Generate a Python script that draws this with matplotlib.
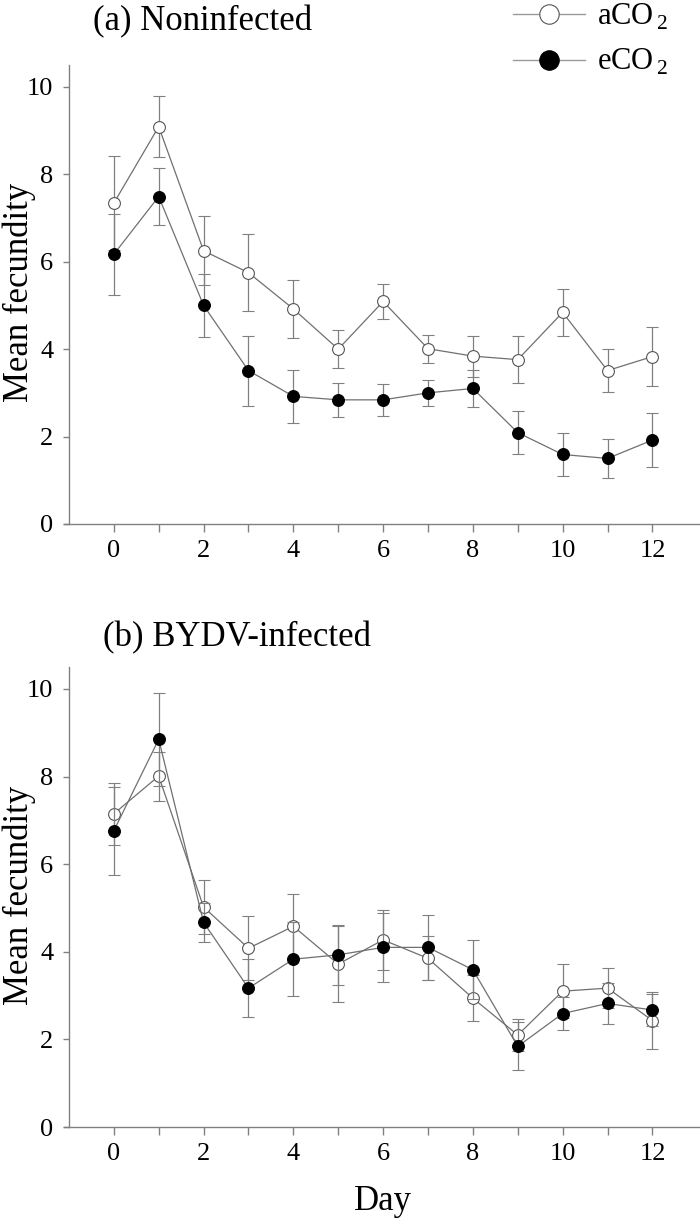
import matplotlib
matplotlib.use("Agg")
import matplotlib.pyplot as plt
from matplotlib.lines import Line2D

plt.rcParams['font.family'] = ['Liberation Serif', 'DejaVu Serif']
plt.rcParams['mathtext.fontset'] = 'custom'
plt.rcParams['mathtext.rm'] = 'Liberation Serif'

days = list(range(13))
ytick_labels = ['0', '2', '4', '6', '8', '10']

# (a) Noninfected
a_noninf_mean = [7.34, 9.09, 6.25, 5.75, 4.92, 4.00, 5.09, 4.01, 3.84, 3.76, 4.84, 3.51, 3.83]
a_noninf_se = [1.08, 0.70, 0.79, 0.88, 0.66, 0.43, 0.40, 0.32, 0.47, 0.54, 0.53, 0.49, 0.68]
e_noninf_mean = [6.17, 7.49, 5.00, 3.51, 2.92, 2.84, 2.84, 3.00, 3.10, 2.09, 1.59, 1.50, 1.92]
e_noninf_se = [0.92, 0.65, 0.73, 0.80, 0.61, 0.39, 0.37, 0.30, 0.43, 0.50, 0.50, 0.45, 0.62]

# (b) BYDV-infected
a_inf_mean = [7.15, 8.01, 5.02, 4.08, 4.58, 3.72, 4.27, 3.85, 2.94, 2.10, 3.10, 3.17, 2.43]
a_inf_se = [0.71, 0.56, 0.61, 0.73, 0.74, 0.87, 0.69, 0.50, 0.53, 0.37, 0.62, 0.45, 0.65]
e_inf_mean = [6.76, 8.85, 4.67, 3.17, 3.83, 3.93, 4.10, 4.10, 3.59, 1.84, 2.59, 2.82, 2.67]
e_inf_se = [1.01, 1.06, 0.45, 0.66, 0.84, 0.69, 0.79, 0.75, 0.67, 0.55, 0.37, 0.46, 0.36]

titles = ['(a) Noninfected', '(b) BYDV-infected']
series_labels = [r'aCO$_{\,\mathregular{2}}$', r'eCO$_{\,\mathregular{2}}$']

W, H = 700, 1221
fig = plt.figure(figsize=(W / 100, H / 100), dpi=100)

gray = '#808080'
line_gray = '#707070'


def px_axes(left, top, right, bottom):
    return fig.add_axes([left / W, 1 - bottom / H, (right - left) / W, (bottom - top) / H])


ax1 = px_axes(64, 65, 700, 524)
ax2 = px_axes(64, 667, 700, 1127)

panels = [
    (ax1, a_noninf_mean, a_noninf_se, e_noninf_mean, e_noninf_se),
    (ax2, a_inf_mean, a_inf_se, e_inf_mean, e_inf_se),
]

for ax, am, ase, em, ese in panels:
    ax.errorbar(days, am, yerr=ase, fmt='-o', color=line_gray, lw=0.9,
                ecolor=gray, elinewidth=0.9, capsize=4.5, capthick=0.9,
                ms=8.5, mfc='white', mec='#555555', mew=0.8, zorder=3)
    ax.errorbar(days, em, yerr=ese, fmt='-o', color=line_gray, lw=0.9,
                ecolor=gray, elinewidth=0.9, capsize=4.5, capthick=0.9,
                ms=8.5, mfc='black', mec='black', mew=0.8, zorder=4)
    ax.set_xlim(-1.11, 13.06)
    ax.set_ylim(0, 10.5)
    ax.spines['top'].set_visible(False)
    ax.spines['right'].set_visible(False)
    ax.spines['left'].set_position(('data', -1))
    for s in ['left', 'bottom']:
        ax.spines[s].set_color(gray)
        ax.spines[s].set_linewidth(1.0)
    ax.set_xticks(days)
    ax.set_xticklabels([str(d) if d % 2 == 0 else '' for d in days])
    ax.set_yticks([0, 2, 4, 6, 8, 10])
    ax.set_yticklabels(ytick_labels)
    ax.tick_params(axis='x', length=5.5, width=1.0, color=gray, labelsize=19, pad=6)
    ax.tick_params(axis='y', length=4.3, width=1.0, color=gray, labelsize=19, pad=7)
    ax.patch.set_alpha(0)

# Panel titles
fig.text(93 / W, 1 - 22 / H, titles[0], fontsize=25, ha='left', va='center')
fig.text(103 / W, 1 - 638 / H, titles[1], fontsize=25, ha='left', va='center')

# Y labels
fig.text(19 / W, 1 - 292 / H, 'Mean fecundity', fontsize=25, rotation=90, ha='center', va='center')
fig.text(19 / W, 1 - 895 / H, 'Mean fecundity', fontsize=25, rotation=90, ha='center', va='center')

# X label
fig.text(383 / W, 1 - 1202 / H, 'Day', fontsize=25, ha='center', va='center')

# Legend
lh = [Line2D([], [], color='#9a9a9a', lw=1.0, marker='o', ms=14, mfc='white', mec='#555555', mew=0.8),
      Line2D([], [], color='#9a9a9a', lw=1.0, marker='o', ms=14, mfc='black', mec='black', mew=0.8)]
fig.legend(lh, series_labels, loc='upper left', bbox_to_anchor=(513 / W, 1 - 2 / H),
           frameon=False, fontsize=22, handlelength=2.36, handletextpad=0.4,
           labelspacing=0.5, borderpad=0, borderaxespad=0)

fig.savefig('out.png', dpi=100)
